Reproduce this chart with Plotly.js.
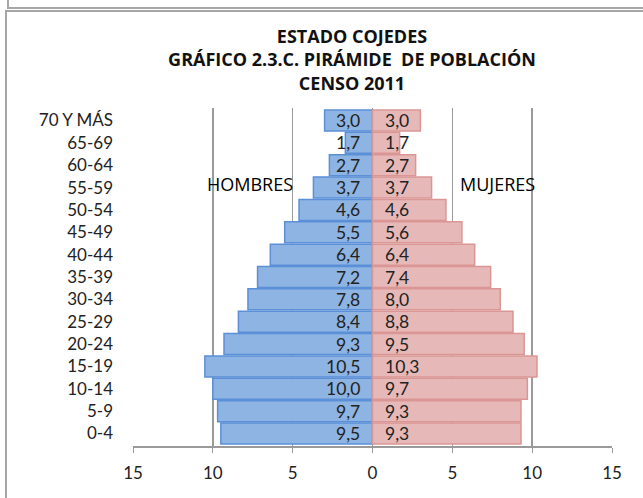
<!DOCTYPE html>
<html><head><meta charset="utf-8">
<script src="https://cdn.plot.ly/plotly-3.0.1.min.js"></script>
<style>
html,body{margin:0;padding:0;background:#fff;width:643px;height:498px;overflow:hidden;position:relative}
#topbox{position:absolute;left:7px;top:-4px;width:700px;height:9px;border:2px solid #a6a6a6;}
#frame{position:absolute;left:5px;top:10px;width:700px;height:600px;border:2px solid #a6a6a6;}
#chart{position:absolute;left:0;top:0;width:643px;height:498px}
</style></head><body>
<div id="topbox"></div><div id="frame"></div>
<div id="chart"></div>
<script>
const categories = ["0-4","5-9","10-14","15-19","20-24","25-29","30-34","35-39","40-44","45-49","50-54","55-59","60-64","65-69","70 Y MÁS"];
const hombres = [9.5,9.7,10.0,10.5,9.3,8.4,7.8,7.2,6.4,5.5,4.6,3.7,2.7,1.7,3.0];
const mujeres = [9.3,9.3,9.7,10.3,9.5,8.8,8.0,7.4,6.4,5.6,4.6,3.7,2.7,1.7,3.0];
const tickVals = [-15,-10,-5,0,5,10,15];
const tickText = ["15","10","5","0","5","10","15"];
const titleLines = ["ESTADO COJEDES","GRÁFICO 2.3.C. PIRÁMIDE  DE POBLACIÓN","CENSO 2011"];

const fmt = v => v.toFixed(1).replace('.', ',');
const FONT = 'Lato, "Open Sans", sans-serif';
const TFONT = '"Open Sans", Lato, sans-serif';

const traces = [
  {type:'bar', orientation:'h', y:categories, x:hombres.map(v=>-v), name:'HOMBRES',
   marker:{color:'#8db4e2', line:{color:'#5b8fd8', width:1.5}}, hoverinfo:'skip'},
  {type:'bar', orientation:'h', y:categories, x:mujeres, name:'MUJERES',
   marker:{color:'#e6b9b8', line:{color:'#d99694', width:1.5}}, hoverinfo:'skip'}
];

const annotations = [];
categories.forEach((c,i)=>{
  annotations.push({x:0, y:c, xref:'x', yref:'y', text:fmt(hombres[i]), showarrow:false,
    xanchor:'right', xshift:-11, font:{family:FONT, size:17.5, color:'#222'}});
  annotations.push({x:0, y:c, xref:'x', yref:'y', text:fmt(mujeres[i]), showarrow:false,
    xanchor:'left', xshift:10, font:{family:FONT, size:17.5, color:'#222'}});
});
annotations.push({x:-7.7, y:11.17, xref:'x', yref:'y', yanchor:'middle', text:'HOMBRES', showarrow:false,
  font:{family:TFONT, size:18, color:'#000'}});
annotations.push({x:7.8, y:11.17, xref:'x', yref:'y', yanchor:'middle', text:'MUJERES', showarrow:false,
  font:{family:TFONT, size:18, color:'#000'}});

const layout = {
  width:643, height:498,
  paper_bgcolor:'rgba(0,0,0,0)', plot_bgcolor:'rgba(0,0,0,0)',
  margin:{l:133, r:31, t:108, b:52},
  barmode:'overlay', bargap:0.06,
  showlegend:false,
  title:{text:titleLines.join('<br>'), x:352/643, xref:'container', xanchor:'center',
    y:1-43/498, yref:'container', yanchor:'top',
    font:{family:TFONT, size:18, color:'#111', weight:'bold'}},
  xaxis:{range:[-15,15], tickvals:tickVals, ticktext:tickText, showgrid:true, gridcolor:'#9a9a9a', gridwidth:1.5,
    zeroline:true, zerolinecolor:'#9a9a9a', zerolinewidth:1.5,
    showline:true, linecolor:'#9a9a9a', linewidth:1.5, ticks:'outside', ticklen:5, tickcolor:'#9a9a9a',
    tickfont:{family:FONT, size:17, color:'#222'}, ticklabelstandoff:6, fixedrange:true},
  yaxis:{type:'category', categoryorder:'array', categoryarray:categories, showgrid:false, zeroline:false,
    showline:false, ticks:'', tickfont:{family:FONT, size:17, color:'#222'}, ticklabelstandoff:19, fixedrange:true},
  annotations: annotations
};
Plotly.newPlot('chart', traces, layout, {displayModeBar:false, staticPlot:true});
</script></body></html>
